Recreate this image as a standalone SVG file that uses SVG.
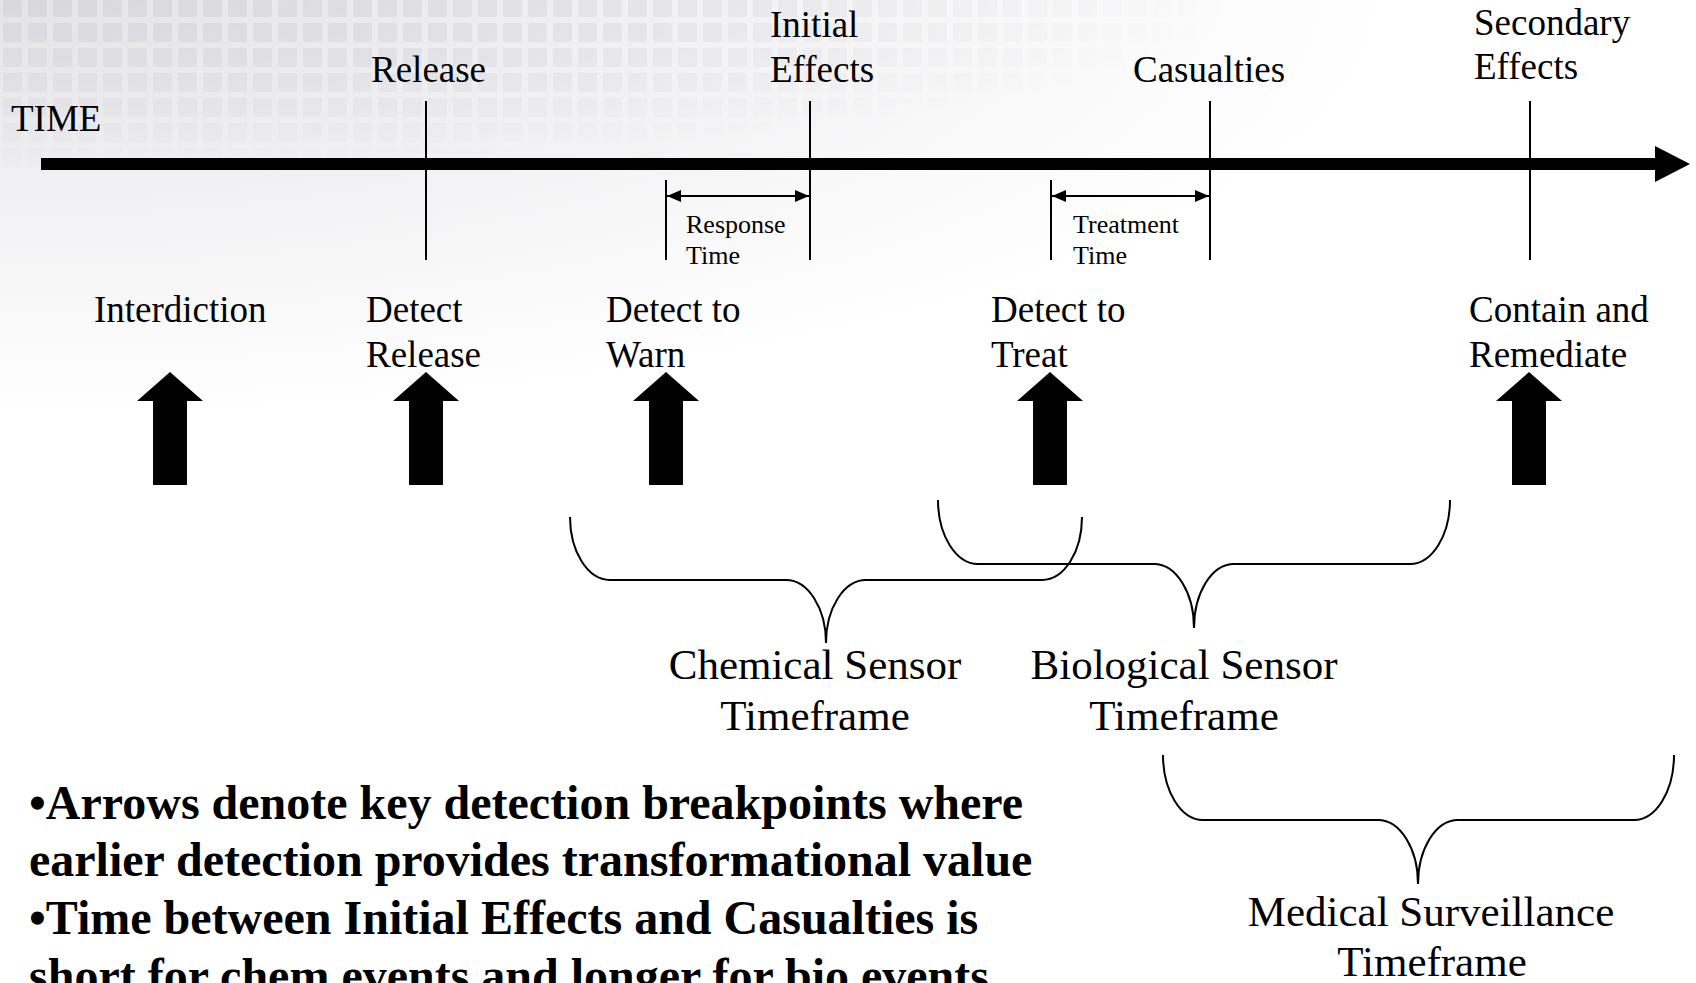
<svg xmlns="http://www.w3.org/2000/svg" width="1696" height="983" viewBox="0 0 1696 983">
<style>
  text { font-family: "Liberation Serif", "Times New Roman", serif; fill: #000; }
  .lbl { font-size: 37px; }
  .sm { font-size: 26px; }
  .tf { font-size: 43px; text-anchor: middle; }
  .note { font-size: 48px; font-weight: bold; }
  .tick { stroke: #000; stroke-width: 2; fill: none; }
  .brace { stroke: #000; stroke-width: 2; fill: none; }
  .blk { fill: #000; }
</style>
<defs>
  <radialGradient id="bgGrad" cx="0" cy="0" r="1" gradientUnits="userSpaceOnUse" gradientTransform="translate(0 0) scale(1400 420)">
    <stop offset="0" stop-color="#e4e4e8"/>
    <stop offset="0.5" stop-color="#f2f2f4"/>
    <stop offset="1" stop-color="#ffffff"/>
  </radialGradient>
  <radialGradient id="gridFade" cx="0" cy="0" r="1" gradientUnits="userSpaceOnUse" gradientTransform="scale(1250 170)">
    <stop offset="0" stop-color="#fff" stop-opacity="0.9"/>
    <stop offset="0.6" stop-color="#fff" stop-opacity="0.35"/>
    <stop offset="1" stop-color="#fff" stop-opacity="0"/>
  </radialGradient>
  <mask id="gridMask">
    <rect x="0" y="0" width="1696" height="983" fill="url(#gridFade)"/>
  </mask>
  <pattern id="grid" x="0" y="-5" width="25" height="25" patternUnits="userSpaceOnUse">
    <rect x="3" y="3" width="19" height="19" rx="2" fill="#d6d6dc"/>
  </pattern>
  <marker id="ah" viewBox="0 0 14 12" refX="14" refY="6" markerWidth="14" markerHeight="12" markerUnits="userSpaceOnUse" orient="auto-start-reverse">
    <path d="M0,0 L14,6 L0,12 Z" fill="#000"/>
  </marker>
</defs>

<g id="background">
  <rect x="0" y="0" width="1696" height="983" fill="#fff"/>
  <rect x="0" y="0" width="1696" height="983" fill="url(#bgGrad)"/>
  <rect x="0" y="0" width="1696" height="200" fill="url(#grid)" mask="url(#gridMask)"/>
</g>

<g id="timeline">
  <rect x="41" y="158" width="1616" height="12" class="blk"/>
  <path d="M1655,146 L1690,164 L1655,182 Z" class="blk"/>
  <text class="lbl" x="11" y="131">TIME</text>
</g>

<g id="connectors">
  <line class="tick" x1="426" y1="101" x2="426" y2="260"/>
  <line class="tick" x1="810" y1="101" x2="810" y2="260"/>
  <line class="tick" x1="1210" y1="101" x2="1210" y2="260"/>
  <line class="tick" x1="1530" y1="101" x2="1530" y2="260"/>
  <line class="tick" x1="666" y1="180" x2="666" y2="260"/>
  <line class="tick" x1="1051" y1="180" x2="1051" y2="260"/>
  <line class="tick" x1="667" y1="196" x2="809" y2="196" marker-start="url(#ah)" marker-end="url(#ah)"/>
  <line class="tick" x1="1052" y1="196" x2="1209" y2="196" marker-start="url(#ah)" marker-end="url(#ah)"/>
</g>

<g id="event-release"><text class="lbl" x="371" y="82">Release</text></g>
<g id="event-initial-effects"><text class="lbl" x="770" y="37">Initial</text><text class="lbl" x="770" y="82">Effects</text></g>
<g id="event-casualties"><text class="lbl" x="1133" y="82">Casualties</text></g>
<g id="event-secondary-effects"><text class="lbl" x="1474" y="35">Secondary</text><text class="lbl" x="1474" y="79">Effects</text></g>
<g id="response-time"><text class="sm" x="686" y="233">Response</text><text class="sm" x="686" y="264">Time</text></g>
<g id="treatment-time"><text class="sm" x="1073" y="233">Treatment</text><text class="sm" x="1073" y="264">Time</text></g>

<g id="bp-interdiction">
  <text class="lbl" x="94" y="322">Interdiction</text>
  <path class="blk" d="M170,372 L203,401 L187,401 L187,485 L153,485 L153,401 L137,401 Z"/>
</g>
<g id="bp-detect-release">
  <text class="lbl" x="366" y="322">Detect</text><text class="lbl" x="366" y="367">Release</text>
  <path class="blk" d="M426,372 L459,401 L443,401 L443,485 L409,485 L409,401 L393,401 Z"/>
</g>
<g id="bp-detect-warn">
  <text class="lbl" x="606" y="322">Detect to</text><text class="lbl" x="606" y="367">Warn</text>
  <path class="blk" d="M666,372 L699,401 L683,401 L683,485 L649,485 L649,401 L633,401 Z"/>
</g>
<g id="bp-detect-treat">
  <text class="lbl" x="991" y="322">Detect to</text><text class="lbl" x="991" y="367">Treat</text>
  <path class="blk" d="M1050,372 L1083,401 L1067,401 L1067,485 L1033,485 L1033,401 L1017,401 Z"/>
</g>
<g id="bp-contain">
  <text class="lbl" x="1469" y="322">Contain and</text><text class="lbl" x="1469" y="367">Remediate</text>
  <path class="blk" d="M1529,372 L1562,401 L1546,401 L1546,485 L1512,485 L1512,401 L1496,401 Z"/>
</g>

<g id="chem-timeframe">
  <path class="brace" d="M570,517 A40,63 0 0 0 610,580 L786,580 A40,63 0 0 1 826,643 A40,63 0 0 1 866,580 L1042,580 A40,63 0 0 0 1082,517"/>
  <text class="tf" x="815" y="679">Chemical Sensor</text>
  <text class="tf" x="815" y="730">Timeframe</text>
</g>
<g id="bio-timeframe">
  <path class="brace" d="M938,500 A40,64 0 0 0 978,564 L1154,564 A40,64 0 0 1 1194,628 A40,64 0 0 1 1234,564 L1410,564 A40,64 0 0 0 1450,500"/>
  <text class="tf" x="1184" y="679">Biological Sensor</text>
  <text class="tf" x="1184" y="730">Timeframe</text>
</g>
<g id="medical-timeframe">
  <path class="brace" d="M1163,755 A40,65 0 0 0 1203,820 L1378,820 A40,64 0 0 1 1418,884 A40,64 0 0 1 1458,820 L1634,820 A40,65 0 0 0 1674,755"/>
  <text class="tf" x="1431" y="926">Medical Surveillance</text>
  <text class="tf" x="1432" y="976">Timeframe</text>
</g>

<g id="notes">
  <text class="note" x="29" y="819">•Arrows denote key detection breakpoints where</text>
  <text class="note" x="29" y="876">earlier detection provides transformational value</text>
  <text class="note" x="29" y="934">•Time between Initial Effects and Casualties is</text>
  <text class="note" x="29" y="992">short for chem events and longer for bio events</text>
</g>
</svg>
